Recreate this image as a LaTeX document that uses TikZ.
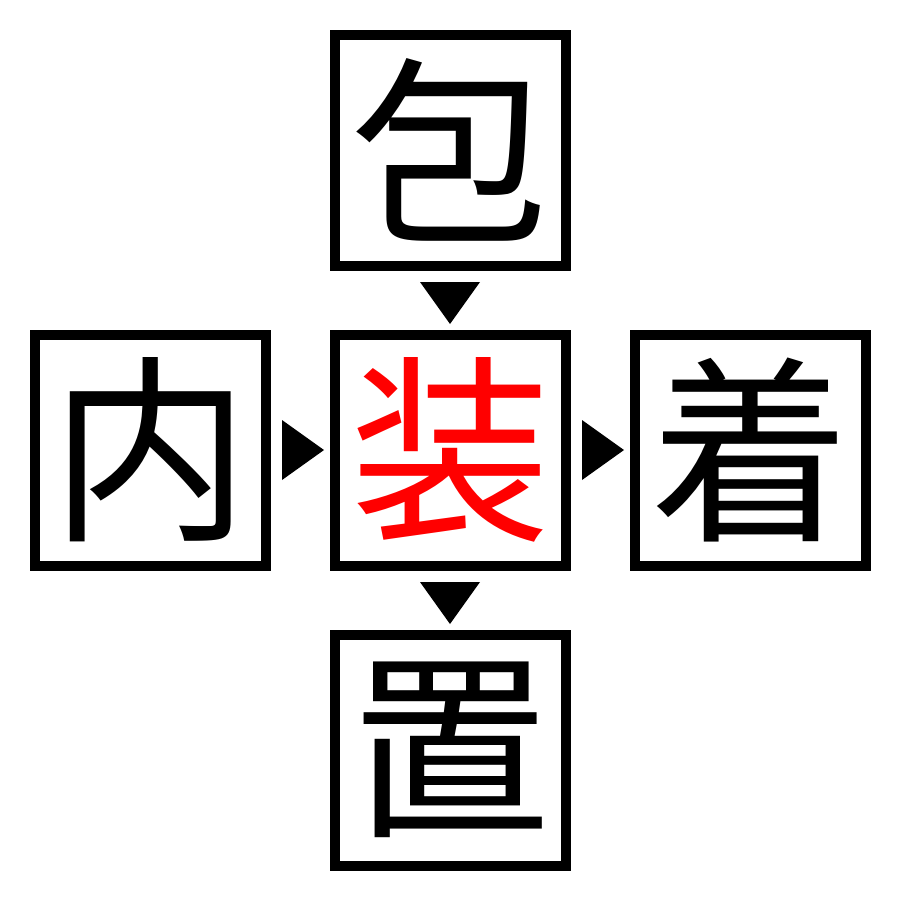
\documentclass[tikz,border=0pt]{standalone}
\usepackage{fontspec}
\newfontfamily\cjk{Noto Sans CJK JP}
\begin{document}
\begin{tikzpicture}[x=0.5pt,y=-0.5pt,
  charbox/.style={draw=black,line width=5pt,minimum size=115.5pt,inner sep=0pt,
    font=\cjk\fontsize{100pt}{100pt}\selectfont,text=black},
  tri/.style={fill=black,draw=none}]
\useasboundingbox (0,0) rectangle (900,900);
\node[charbox] (top) at (450,150) {包};
\node[charbox] (left) at (150,450) {内};
\node[charbox,text=red] (mid) at (450,450) {装};
\node[charbox] (right) at (750,450) {着};
\node[charbox] (bot) at (450,750) {置};
\fill[tri] (420,282) -- (480,282) -- (450,324) -- cycle;
\fill[tri] (420,582) -- (480,582) -- (450,624) -- cycle;
\fill[tri] (282,420) -- (282,480) -- (324,450) -- cycle;
\fill[tri] (582,420) -- (582,480) -- (624,450) -- cycle;
\end{tikzpicture}
\end{document}
